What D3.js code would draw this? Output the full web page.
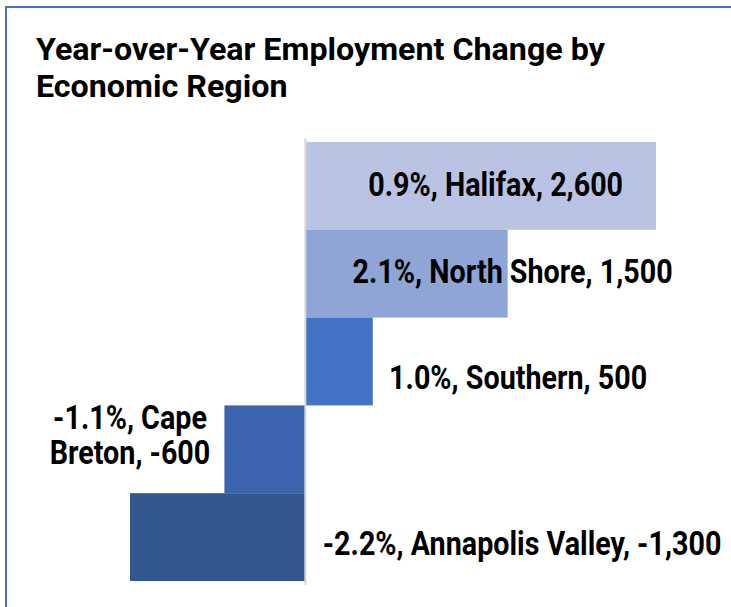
<!DOCTYPE html>
<html>
<head>
<meta charset="utf-8">
<script src="https://cdn.jsdelivr.net/npm/d3@7"></script>
<style>
  body { margin: 0; background: #fff; }
  text { font-family: Roboto, "Noto Sans", sans-serif; font-weight: 700; fill: #000; }
</style>
</head>
<body>
<div id="chart"></div>
<script>
// data
const regions = ["Halifax", "North Shore", "Southern", "Cape Breton", "Annapolis Valley"];
const change = [2600, 1500, 500, -600, -1300];
const pctChange = [0.9, 2.1, 1.0, -1.1, -2.2];
const titleLines = ["Year-over-Year Employment Change by", "Economic Region"];

// label placement (dragged labels in the original), in data units / px offsets
const labelX = [1411, 1537, 1578, -1300, 1607];
const labelDy = [-2, -3, 15, -15, 6];
const labelBreak = { "Cape Breton": ["-1.1%, Cape", "Breton, -600"] };

const colors = ["#b9c4e4", "#8fa5d5", "#4472c4", "#3c63ad", "#32568f"];

const W = 731, H = 607;

const svg = d3.select("#chart").append("svg")
    .attr("width", W)
    .attr("height", H);

// frame (only left and top edges are visible)
svg.append("rect")
    .attr("x", 6).attr("y", 7)
    .attr("width", 900).attr("height", 900)
    .attr("fill", "none")
    .attr("stroke", "#4472c4")
    .attr("stroke-width", 2);

//=== title ===
const title = svg.append("g");
let titleK = 1;
titleLines.forEach((t, i) => {
    const txt = title.append("text")
        .attr("font-size", 31)
        .text(t);
    if (i === 0) titleK = 569 / txt.node().getComputedTextLength();
    txt.attr("transform", `translate(36,${60 + i * 37}) scale(${titleK},1)`);
});

//=== scales ===
const xScale = d3.scaleLinear()
    .domain([d3.min(change), d3.max(change)])
    .range([130, 656]);

const yScale = d3.scaleBand()
    .domain(regions)
    .range([142, 581])
    .padding(0);

svg.selectAll("rect.bar")
    .data(regions)
    .join("rect")
    .attr("class", "bar")
    .attr("x", (d, i) => xScale(Math.min(0, change[i])))
    .attr("width", (d, i) => Math.abs(xScale(change[i]) - xScale(0)))
    .attr("y", d => yScale(d))
    .attr("height", yScale.bandwidth())
    .attr("fill", (d, i) => colors[i]);

// zero line
svg.append("line")
    .attr("x1", xScale(0)).attr("x2", xScale(0))
    .attr("y1", yScale.range()[0] - 4)
    .attr("y2", yScale.range()[1] + 4)
    .attr("stroke", "#d9d9d9")
    .attr("stroke-width", 2);

//=== labels ===
const loc = d3.formatLocale({ decimal: ".", thousands: ",", grouping: [3], currency: ["", ""], minus: "-" });
const fmtNum = loc.format(",");
const fmtPct = loc.format(".1f");
const labelSize = 34;

// condensing factor so the Halifax label is ~255px wide
const probe = svg.append("text").attr("font-size", labelSize)
    .text(`${fmtPct(pctChange[0])}%, ${regions[0]}, ${fmtNum(change[0])}`);
const labelK = 255 / probe.node().getComputedTextLength();
probe.remove();

regions.forEach((r, i) => {
    const lines = labelBreak[r] || [`${fmtPct(pctChange[i])}%, ${r}, ${fmtNum(change[i])}`];
    const cy = yScale(r) + yScale.bandwidth() / 2 + labelDy[i];
    const lh = 35;
    const txt = svg.append("text")
        .attr("text-anchor", "middle")
        .attr("font-size", labelSize)
        .attr("transform", `translate(${xScale(labelX[i])},${cy}) scale(${labelK},1)`);
    lines.forEach((l, j) => {
        txt.append("tspan")
            .attr("x", 0)
            .attr("y", (j - (lines.length - 1) / 2) * lh + 12)
            .text(l);
    });
});
</script>
</body>
</html>
